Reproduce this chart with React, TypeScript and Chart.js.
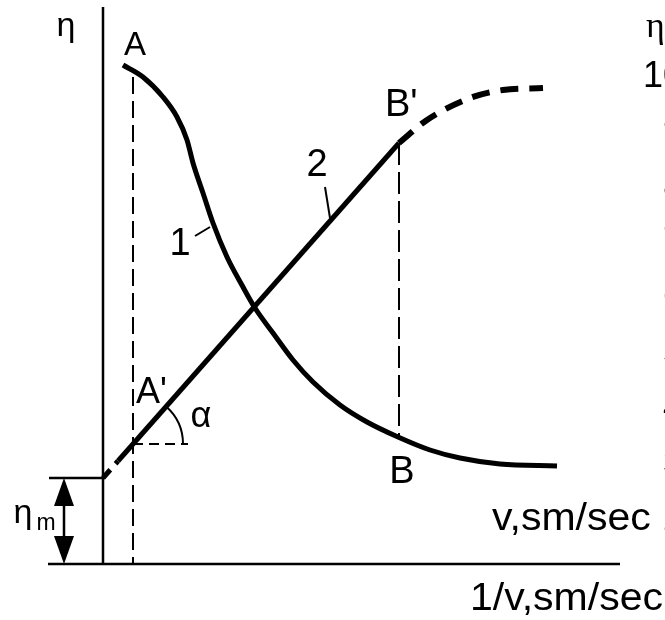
import React, { useEffect, useRef } from "react";
import { Chart, registerables } from "chart.js";

Chart.register(...registerables);

// ---- data (schematic units) ----
// Curve 1: η as a function of 1/v
const curve1X = [0.4, 0.8, 1.2, 1.48, 1.68, 1.8, 2.0, 2.2, 2.48, 2.8, 3.04, 3.4, 3.8, 4.2, 4.74, 5.28, 5.9, 6.54, 7.14, 7.94, 9.08];
const curve1Y = [9.98, 9.74, 9.34, 8.94, 8.48, 8.02, 7.42, 6.82, 6.14, 5.54, 5.12, 4.62, 4.08, 3.64, 3.18, 2.84, 2.54, 2.28, 2.12, 2.0, 1.96];

// Line 2: straight segment A'..B'
const line2X = [0.3, 5.92];
const line2Y = [2.06, 8.42];
// Line 2 extrapolated (dashed) down to the η axis
const line2ExtX = [0, 0.3];
const line2ExtY = [1.72, 2.06];
// Dashed continuation beyond B'
const bendX = [5.92, 6.48, 7.34, 8.0, 8.8];
const bendY = [8.42, 8.88, 9.32, 9.48, 9.52];

// Key points
const pointA = { x: 0.6, y: 9.74 };
const pointAp = { x: 0.6, y: 2.4 };
const pointBp = { x: 5.92, y: 8.42 };
const pointB = { x: 5.92, y: 2.54 };
const etaM = 1.72;

// Axes extents
const axisTop = 11.14;
const axisLeft = -1.1;
const axisRight = 10.34;

// Right-hand (clipped) tick labels of the neighbouring scale
const rightTicks = [10, 9, 8, 7, 6, 5, 4, 3, 2];

const X_MIN = -2.06, X_MAX = 11.24, Y_MIN = -1.12, Y_MAX = 11.28;
const Y2_MIN = 0.194, Y2_MAX = 11.39;

const SANS = '"Liberation Sans", Arial, Helvetica, sans-serif';
const SERIF = '"Liberation Serif", "Times New Roman", serif';

type Lbl = { t: string; x: number; y: number; size: number; align: CanvasTextAlign; font?: string; sx?: number };
const labels: Lbl[] = [
  { t: "η", x: -0.74, y: 10.56, size: 34, align: "center" },
  { t: "A", x: 0.64, y: 10.18, size: 33, align: "center" },
  { t: "A'", x: 0.66, y: 3.22, size: 36, align: "left" },
  { t: "α", x: 1.96, y: 2.74, size: 36, align: "center" },
  { t: "η", x: -1.6, y: 0.82, size: 34, align: "center" },
  { t: "m", x: -1.33, y: 0.68, size: 23, align: "left" },
  { t: "B'", x: 5.64, y: 8.96, size: 38, align: "left" },
  { t: "B", x: 5.98, y: 1.62, size: 38, align: "center" },
  { t: "1", x: 1.54, y: 6.18, size: 38, align: "center" },
  { t: "2", x: 4.28, y: 7.76, size: 38, align: "center" },
  { t: "1/v,sm/sec", x: 7.34, y: -0.92, size: 38, align: "left", sx: 1.08 },
  { t: "v,sm/sec", x: 7.78, y: 0.68, size: 38, align: "left", sx: 1.08 },
  { t: "η", x: 10.86, y: 10.54, size: 36, align: "left", font: SERIF },
];

const pts = (xs: number[], ys: number[]) => xs.map((x, i) => ({ x, y: ys[i] }));

const seg = (data: { x: number; y: number }[], width: number, dash: number[] = [], extra: any = {}) => ({
  data,
  showLine: true,
  pointRadius: 0,
  pointHoverRadius: 0,
  borderColor: "#000",
  backgroundColor: "#000",
  borderWidth: width,
  borderDash: dash,
  fill: false,
  tension: 0,
  ...extra,
});

const annotate = {
  id: "annotate",
  afterDatasetsDraw(chart: any) {
    const { ctx, scales } = chart;
    const xs = scales.x, ys = scales.y, y2 = scales.y2;
    const px = (v: number) => xs.getPixelForValue(v);
    const py = (v: number) => ys.getPixelForValue(v);
    ctx.save();
    ctx.fillStyle = "#000";
    ctx.strokeStyle = "#000";

    // α arc
    const cx = px(pointAp.x), cy = py(pointAp.y);
    const slope = (line2Y[1] - line2Y[0]) / (line2X[1] - line2X[0]);
    const ang = Math.atan(slope);
    const r = px(pointAp.x + 1.0) - cx;
    ctx.lineWidth = 2;
    ctx.beginPath();
    ctx.arc(cx, cy, r, -ang, 0);
    ctx.stroke();

    // η_m double arrow heads
    const ax = px(-0.78);
    const topY = py(etaM), botY = py(0);
    const hl = 28, hw = 10;
    ctx.beginPath();
    ctx.moveTo(ax, topY);
    ctx.lineTo(ax - hw, topY + hl);
    ctx.lineTo(ax + hw, topY + hl);
    ctx.closePath();
    ctx.fill();
    ctx.beginPath();
    ctx.moveTo(ax, botY);
    ctx.lineTo(ax - hw, botY - hl);
    ctx.lineTo(ax + hw, botY - hl);
    ctx.closePath();
    ctx.fill();

    // text labels
    ctx.textBaseline = "alphabetic";
    for (const l of labels) {
      ctx.font = `${l.size}px ${l.font || SANS}`;
      ctx.textAlign = l.align;
      if (l.sx) {
        ctx.save();
        ctx.translate(px(l.x), py(l.y));
        ctx.scale(l.sx, 1);
        ctx.fillText(l.t, 0, 0);
        ctx.restore();
      } else {
        ctx.fillText(l.t, px(l.x), py(l.y));
      }
    }

    // right-hand tick labels (clipped at the edge)
    ctx.font = `36px ${SANS}`;
    ctx.textAlign = "right";
    ctx.textBaseline = "middle";
    for (const v of rightTicks) {
      ctx.fillText(String(v), px(11.6), y2.getPixelForValue(v));
    }
    ctx.restore();
  },
};

export default function App() {
  const ref = useRef<HTMLCanvasElement>(null);
  useEffect(() => {
    if (!ref.current) return;
    const datasets: any[] = [
      // axes
      seg([{ x: 0, y: 0 }, { x: 0, y: axisTop }], 2.5),
      seg([{ x: axisLeft, y: 0 }, { x: axisRight, y: 0 }], 2.5),
      // η_m level tick & arrow shaft
      seg([{ x: axisLeft + 0.02, y: etaM }, { x: 0, y: etaM }], 2.5),
      seg([{ x: -0.78, y: etaM - 0.3 }, { x: -0.78, y: 0.3 }], 2.5),
      // thin dashed guides
      seg([{ x: pointA.x, y: pointA.y }, { x: pointA.x, y: 0 }], 2, [17, 7]),
      seg([{ x: pointAp.x, y: pointAp.y }, { x: pointAp.x + 1.1, y: pointAp.y }], 2, [10, 6]),
      seg([{ x: pointBp.x, y: pointBp.y }, { x: pointB.x, y: pointB.y }], 2, [22, 7]),
      // label leader ticks
      seg([{ x: 1.84, y: 6.56 }, { x: 2.14, y: 6.74 }], 2),
      seg([{ x: 4.44, y: 7.54 }, { x: 4.54, y: 6.92 }], 2),
      // curve 1
      seg(pts(curve1X, curve1Y), 5, [], { cubicInterpolationMode: "monotone" }),
      // line 2
      seg(pts(line2X, line2Y), 5),
      seg(pts(line2ExtX, line2ExtY), 5, [11, 8]),
      seg(pts(bendX, bendY), 6, [18, 11], { cubicInterpolationMode: "monotone" }),
    ];
    const chart = new Chart(ref.current, {
      type: "scatter",
      data: { datasets },
      options: {
        animation: false,
        responsive: true,
        maintainAspectRatio: false,
        events: [],
        layout: { padding: 0 },
        plugins: { legend: { display: false }, tooltip: { enabled: false }, title: { display: false } },
        scales: {
          x: { type: "linear", min: X_MIN, max: X_MAX, display: false },
          y: { type: "linear", min: Y_MIN, max: Y_MAX, display: false },
          y2: { type: "linear", min: Y2_MIN, max: Y2_MAX, display: false },
        },
      } as any,
      plugins: [annotate],
    });
    return () => chart.destroy();
  }, []);
  return (
    <div style={{ position: "absolute", left: 0, top: 0, width: 665, height: 620, background: "#fff" }}>
      <canvas ref={ref} />
    </div>
  );
}
